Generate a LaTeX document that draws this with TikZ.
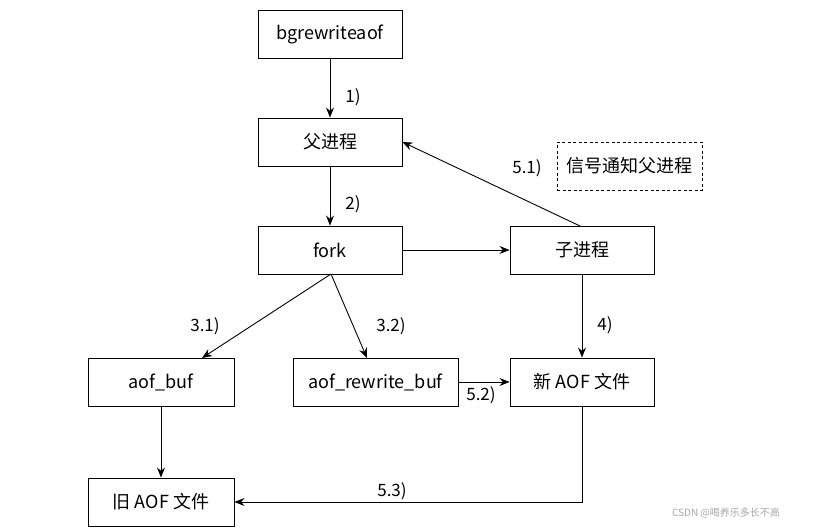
\documentclass[tikz,border=0pt]{standalone}
\usepackage{fontspec}
\setmainfont{Noto Sans CJK SC}
\usetikzlibrary{arrows.meta}

\begin{document}
\begin{tikzpicture}[x=1pt,y=-1pt,
  box/.style={draw,line width=0.9pt,minimum width=144pt,minimum height=48pt,inner sep=0pt,font=\fontsize{18}{21}\selectfont},
  lbl/.style={font=\fontsize{17}{20}\selectfont},
  arr/.style={line width=0.9pt,-{Stealth[length=10pt,width=8pt]}}]
\useasboundingbox (0,0) rectangle (823,528);
\node[box] (bg) at (330,34) {bgrewriteaof};
\node[box] (parent) at (330,142) {父进程};
\node[box] (fork) at (330,250) {fork};
\node[box] (child) at (582,250) {子进程};
\node[box,dash pattern=on 3pt off 2.5pt,minimum width=145pt] (signal) at (629.5,166) {信号通知父进程};
\node[box,minimum width=146pt] (aofbuf) at (161,382) {aof\_buf};
\node[box,minimum width=165pt] (rwbuf) at (375.5,382) {aof\_rewrite\_buf};
\node[box] (newaof) at (582,382) {新 AOF 文件};
\node[box,minimum width=146pt] (oldaof) at (161,502) {旧 AOF 文件};
\coordinate (corner) at (582,502);
\coordinate (fk) at (331,274);
\coordinate (ch) at (580,226);
% arrows
\draw[arr] (bg) -- (parent);
\draw[arr] (parent) -- (fork);
\draw[arr] (fork) -- (child);
\draw[arr] (ch) -- (parent.east);
\draw[arr] (fk) -- (202,358);
\draw[arr] (fk) -- (367,358);
\draw[arr] (child) -- (newaof);
\draw[arr] (rwbuf) -- (newaof);
\draw[arr] (aofbuf) -- (oldaof);
\draw[arr] (newaof.south) -- (corner) -- (oldaof.east);
% labels
\node[lbl] (l1) at (353,97) {1)};
\node[lbl] (l2) at (353,204) {2)};
\node[lbl] (l51) at (527,168) {5.1)};
\node[lbl] (l31) at (205,326) {3.1)};
\node[lbl] (l32) at (391,326) {3.2)};
\node[lbl] (l4) at (605,325) {4)};
\node[lbl] (l52) at (481,395) {5.2)};
\node[lbl] (l53) at (392,491) {5.3)};
\node[font=\fontsize{10}{12}\selectfont,text=gray!70] (mark) at (726,513) {CSDN @喝养乐多长不高};
\end{tikzpicture}
\end{document}
